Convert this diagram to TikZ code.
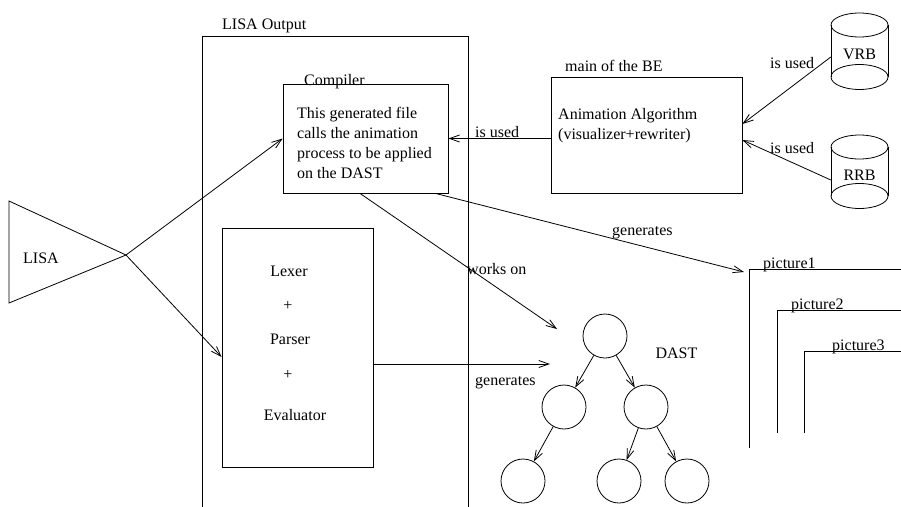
\documentclass[tikz,border=0pt]{standalone}
\usepackage{fontspec}
\setmainfont{Liberation Serif}
\usetikzlibrary{arrows.meta,calc}

\tikzset{
  thin line/.style={line width=0.8pt},
  box/.style={draw, thin line, inner sep=0pt},
  arr/.style={thin line, -{Straight Barb[length=10pt,width=7pt]}},
  txt/.style={inner sep=0pt, font=\fontsize{16}{20}\selectfont},
  astnode/.style={circle, draw, thin line, minimum size=44pt, inner sep=0pt},
}

\begin{document}
\begin{tikzpicture}[x=1pt,y=-1pt]
\useasboundingbox (0,0) rectangle (901,506);
\clip (0,0) rectangle (901,506);

% --- LISA source: the triangle on the left
\coordinate (lisaapex) at (126,255);
\draw[thin line] (9,201) -- (lisaapex) -- (9,303) -- cycle;
\node[txt, anchor=base west] (lisa) at (23,263) {LISA};

% --- LISA Output frame (runs off the bottom)
\draw[thin line] (202,520) -- (202,36) -- (468,36) -- (468,520);
\node[txt, anchor=base west] (outlbl) at (222,29) {LISA Output};

% --- Compiler box
\node[box, minimum width=165pt, minimum height=109pt] (comp) at (365.5,138.5) {};
\node[txt, anchor=base west] (complbl) at (304,85) {Compiler};
\node[txt, anchor=north west, align=left] (comptxt) at (297,107.5)
  {This generated file\\calls the animation\\process to be applied\\on the DAST};

% --- Lexer / Parser / Evaluator box
\node[box, minimum width=151pt, minimum height=239pt] (lex) at (297.5,347.5) {};
\node[txt, anchor=base] (lexer) at (289,276) {Lexer};
\node[txt, anchor=base] (plus1) at (288,310) {+};
\node[txt, anchor=base] (parser) at (290,344) {Parser};
\node[txt, anchor=base] (plus2) at (288,379) {+};
\node[txt, anchor=base] (evaluator) at (295,420) {Evaluator};

% --- Animation algorithm box
\node[box, minimum width=191pt, minimum height=116pt] (anim) at (646.5,135) {};
\node[txt, anchor=base west] (animlbl) at (565,71) {main of the BE};
\node[txt, anchor=north west, align=left] (animtxt) at (558,108.5)
  {Animation Algorithm\\(visualizer+rewriter)};

% --- Rule bases (cylinders)
\foreach \yt/\yb in {25/77, 147/196}{
  \draw[thin line] (859.5,\yt) ellipse [x radius=28.5, y radius=12];
  \draw[thin line] (859.5,\yb) ellipse [x radius=28.5, y radius=12.5];
  \draw[thin line] (831,\yt) -- (831,\yb);
  \draw[thin line] (888,\yt) -- (888,\yb);
}
\node[txt, minimum width=57pt, minimum height=52pt] (vrb) at (859.5,54) {VRB};
\node[txt, minimum width=57pt, minimum height=52pt] (rrb) at (859.5,175) {RRB};

% --- DAST tree
\node[astnode] (root) at (605,336) {};
\node[astnode] (n1)   at (564,407) {};
\node[astnode] (n2)   at (646,407) {};
\node[astnode] (n11)  at (523,481) {};
\node[astnode] (n21)  at (619,481) {};
\node[astnode] (n22)  at (687,481) {};
\node[txt] (dast) at (676.5,353) {DAST};
\draw[arr] (root) -- (n1);
\draw[arr] (root) -- (n2);
\draw[arr] (n1) -- (n11);
\draw[arr] (n2) -- (n21);
\draw[arr] (n2) -- (n22);

% --- Pictures produced by the animation
\coordinate (pic1) at (749,269);
\coordinate (pic2) at (777,310);
\coordinate (pic3) at (804,351);
\draw[thin line] (749,448) -- (pic1) -- (910,269);
\draw[thin line] (777,433) -- (pic2) -- (910,310);
\draw[thin line] (804,433) -- (pic3) -- (910,351);
\node[txt, anchor=base west] (p1lbl) at (763,268) {picture1};
\node[txt, anchor=base west] (p2lbl) at (791,309) {picture2};
\node[txt, anchor=base west] (p3lbl) at (832,350) {picture3};

% --- Free arrow ends
\coordinate (wtip) at (557,329);
\coordinate (gtip) at (550,364);
\coordinate (p1tip) at (744,272);

% --- Connectors
\draw[arr] (lisaapex) -- (comp.west);
\draw[arr] (lisaapex) -- ([yshift=-9.5pt]lex.west);
\draw[arr] (anim.west |- comp.east) -- (comp.east);
\node[txt, anchor=base west] (used1) at (475,137) {is used};
\draw[arr] ([yshift=-3pt]vrb.west) -- ([yshift=11pt]anim.east);
\node[txt, anchor=base west] (used2) at (770,68) {is used};
\draw[arr] ([yshift=-5pt]rrb.west) -- ([yshift=-5pt]anim.east);
\node[txt, anchor=base west] (used3) at (770,153) {is used};
\draw[arr] ([xshift=-5.5pt]comp.south) -- (wtip);
\node[txt, anchor=base west] (workson) at (467,274) {works on};
\draw[arr] ([xshift=-13pt]comp.south east) -- (p1tip);
\node[txt, anchor=base west] (gen1) at (612,235) {generates};
\draw[arr] (lex.east |- gtip) -- (gtip);
\node[txt, anchor=base west] (gen2) at (475,385) {generates};
\end{tikzpicture}
\end{document}
